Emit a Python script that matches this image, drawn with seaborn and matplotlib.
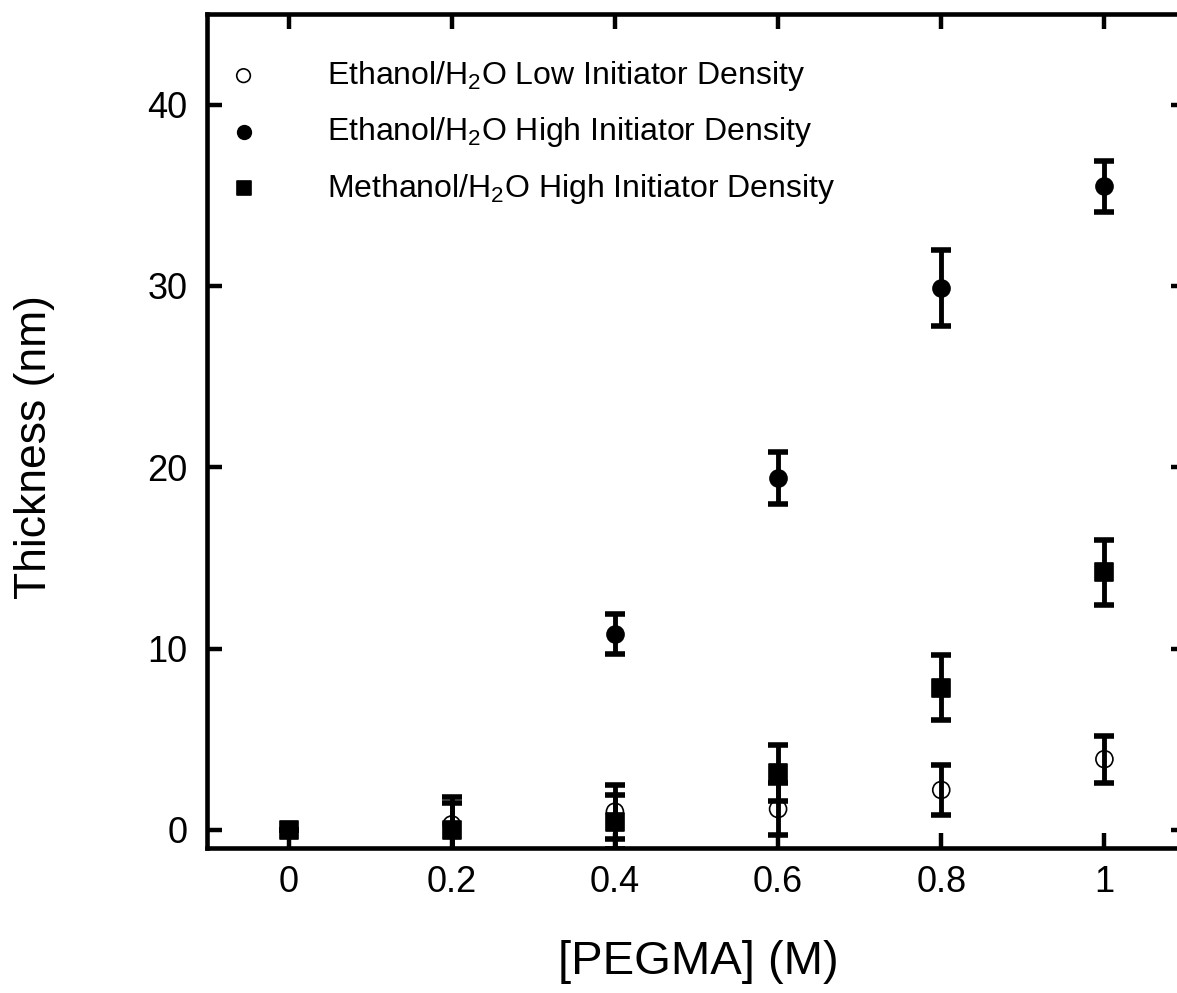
import matplotlib
matplotlib.use('Agg')
import matplotlib.pyplot as plt
import seaborn as sns
import pandas as pd

# data
conc_low = [0.2, 0.4, 0.6, 0.8, 1.0]
thick_low = [0.3, 1.0, 1.15, 2.2, 3.9]
err_low = [1.5, 1.5, 1.45, 1.4, 1.3]

conc_eth = [0.4, 0.6, 0.8, 1.0]
thick_eth = [10.8, 19.4, 29.9, 35.5]
err_eth = [1.1, 1.45, 2.1, 1.4]

conc_meth = [0.0, 0.2, 0.4, 0.6, 0.8, 1.0]
thick_meth = [0.0, 0.0, 0.45, 3.15, 7.85, 14.2]
err_meth = [0.0, 1.5, 1.5, 1.55, 1.8, 1.8]

labels = ['Ethanol/H$_2$O Low Initiator Density',
          'Ethanol/H$_2$O High Initiator Density',
          'Methanol/H$_2$O High Initiator Density']

xticks = [0, 0.2, 0.4, 0.6, 0.8, 1.0]
xticklabels = ['0', '0.2', '0.4', '0.6', '0.8', '1']
yticks = [0, 10, 20, 30, 40]

sns.set_style('ticks')
plt.rcParams['font.family'] = ['Liberation Sans', 'DejaVu Sans']
plt.rcParams['mathtext.default'] = 'regular'
plt.rcParams['text.color'] = 'black'
plt.rcParams['axes.labelcolor'] = 'black'

fig = plt.figure(figsize=(11.77, 9.93), dpi=100)
ax = fig.add_axes([207 / 1177, 145 / 993, 979 / 1177, 834 / 993])

series = [
    (conc_low, thick_low, err_low, 'o', 'none', labels[0]),
    (conc_eth, thick_eth, err_eth, 'o', 'black', labels[1]),
    (conc_meth, thick_meth, err_meth, 's', 'black', labels[2]),
]

for i, (x, y, e, m, fc, lab) in enumerate(series):
    df = pd.DataFrame({'conc': x, 'thick': y, 'err': e})
    ax.errorbar(df['conc'], df['thick'], yerr=df['err'], fmt='none',
                ecolor='black', elinewidth=3.5, capsize=7, capthick=4,
                zorder=2 + i)
    sns.scatterplot(data=df, x='conc', y='thick', marker=m, s=150,
                    facecolor=fc, edgecolor='black', linewidth=1.2,
                    label=lab, ax=ax, zorder=2.5 + i)

ax.set_xlim(-0.1, 1.1)
ax.set_ylim(-1, 45)
ax.set_xticks(xticks)
ax.set_xticklabels(xticklabels)
ax.set_yticks(yticks)
ax.tick_params(axis='both', which='major', direction='in', length=11,
               width=3.2, labelsize=26, top=True, right=True, color='black',
               labelcolor='black')
ax.tick_params(axis='x', pad=12)
ax.tick_params(axis='y', pad=14)
for sp in ax.spines.values():
    sp.set_linewidth(3.3)
    sp.set_color('black')

ax.set_xlabel('[PEGMA] (M)', fontsize=34, va='center')
ax.set_ylabel('Thickness (nm)', fontsize=32, va='center')
ax.xaxis.set_label_coords(0.502, -0.137)
ax.yaxis.set_label_coords(-0.176, 0.481)

leg = ax.legend(loc='upper left', bbox_to_anchor=(0.021, 0.946),
                frameon=False, fontsize=23, handlelength=1.0,
                handletextpad=2.1, labelspacing=0.7, borderpad=0,
                borderaxespad=0, markerscale=0.8)

fig.savefig('out.png', dpi=100)
